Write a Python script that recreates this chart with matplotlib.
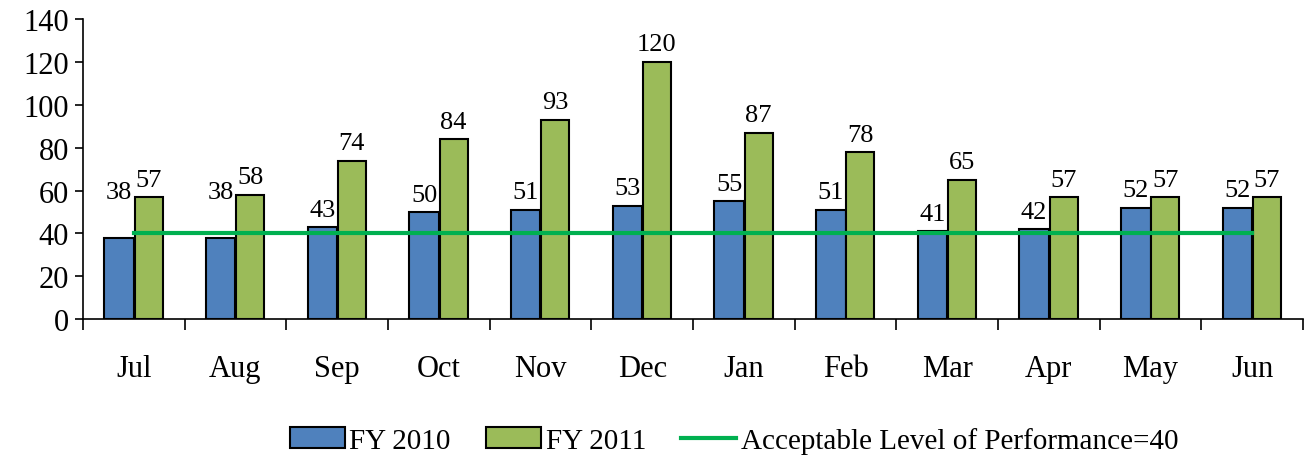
import numpy as np
import matplotlib.pyplot as plt

plt.rcParams['font.family'] = ['Liberation Serif', 'DejaVu Serif']

months = ['Jul', 'Aug', 'Sep', 'Oct', 'Nov', 'Dec', 'Jan', 'Feb', 'Mar', 'Apr', 'May', 'Jun']
fy2010 = [38, 38, 43, 50, 51, 53, 55, 51, 41, 42, 52, 52]
fy2011 = [57, 58, 74, 84, 93, 120, 87, 78, 65, 57, 57, 57]
acceptable = [40] * 12

fig = plt.figure(figsize=(13.13, 4.56), dpi=100)
ax = fig.add_axes([0.0632, 0.298, 0.9292, 0.658])

x = np.arange(len(months))
w = 0.29
b1 = ax.bar(x - w / 2, fy2010, w, color='#4F81BD', edgecolor='black', linewidth=1.5, label='FY 2010', zorder=2)
b2 = ax.bar(x + w / 2, fy2011, w * 0.95, color='#9BBB59', edgecolor='black', linewidth=1.5, label='FY 2011', zorder=2)
ln, = ax.plot(x, acceptable, color='#00B050', lw=3, label='Acceptable Level of Performance=40', zorder=3)

# labels of bars under the green line are lifted above it
for xi, v in zip(x, fy2010):
    top = v + 3 if v > 40 else v + 16
    ax.text(xi - w / 2, top, str(v), ha='center', va='bottom', fontsize=19)
for xi, v in zip(x, fy2011):
    ax.text(xi + w / 2, v + 3, str(v), ha='center', va='bottom', fontsize=19)

ax.set_xlim(-0.5, 11.5)
ax.set_ylim(0, 140)
ax.set_yticks(range(0, 141, 20))
ax.tick_params(axis='y', labelsize=22, direction='out', length=6, width=1.2, pad=4)
ax.set_xticks(np.arange(-0.5, 12, 1))
ax.set_xticklabels([])
ax.set_xticks(x, minor=True)
ax.set_xticklabels(months, minor=True)
ax.tick_params(axis='x', which='major', direction='out', length=8, width=1.2)
ax.tick_params(axis='x', which='minor', length=0, pad=25, labelsize=22)
for s in ['top', 'right']:
    ax.spines[s].set_visible(False)
for s in ['left', 'bottom']:
    ax.spines[s].set_linewidth(1.2)

fig.legend(handles=[b1, b2, ln], loc='lower center', bbox_to_anchor=(0.559, -0.055), ncol=3, frameon=False,
           fontsize=21, handlelength=1.9, handleheight=0.7, handletextpad=0.15, columnspacing=1.2)

fig.savefig('out.png', dpi=100)
